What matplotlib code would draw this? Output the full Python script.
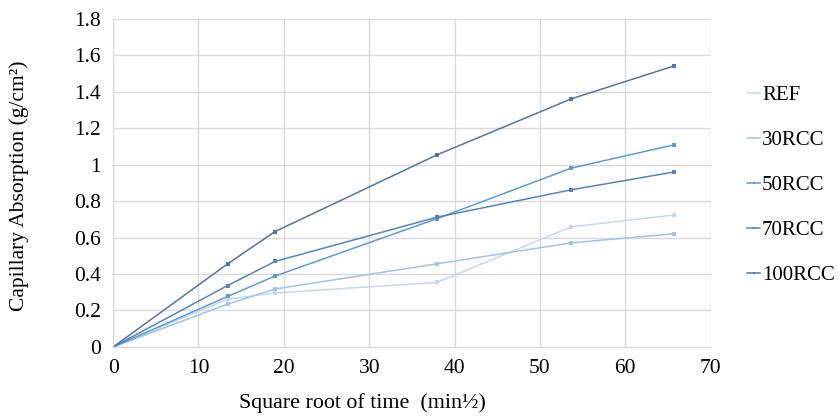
import matplotlib
matplotlib.use("Agg")
import matplotlib.pyplot as plt

plt.rcParams['font.family'] = ['Liberation Serif', 'DejaVu Serif']

time_sqrt = [0, 13.42, 18.97, 37.95, 53.67, 65.73]
series_names = ["REF", "30RCC", "50RCC", "70RCC", "100RCC"]
ref = [0, 0.262, 0.296, 0.354, 0.659, 0.724]
rcc30 = [0, 0.235, 0.318, 0.456, 0.571, 0.621]
rcc50 = [0, 0.277, 0.389, 0.704, 0.981, 1.109]
rcc70 = [0, 0.337, 0.469, 0.712, 0.862, 0.960]
rcc100 = [0, 0.456, 0.633, 1.054, 1.361, 1.542]
colors = ["#c3d8ef", "#9dc3e6", "#5b9bd5", "#5384c0", "#4f76a6"]

x_ticks = [0, 10, 20, 30, 40, 50, 60, 70]
y_ticks = [0, 0.2, 0.4, 0.6, 0.8, 1.0, 1.2, 1.4, 1.6, 1.8]
y_tick_labels = ["0", "0.2", "0.4", "0.6", "0.8", "1", "1.2", "1.4", "1.6", "1.8"]

fig = plt.figure(figsize=(8.38, 4.19), dpi=100)
ax = fig.add_axes([0.135, 0.172, 0.713, 0.783])

handles = []
for name, vals, c in zip(series_names, [ref, rcc30, rcc50, rcc70, rcc100], colors):
    h, = ax.plot(time_sqrt, vals, color=c, lw=1.1, marker='s', ms=2.5,
                 markeredgewidth=0, label=name)
    handles.append(h)

ax.set_xlim(0, 70)
ax.set_ylim(0, 1.8)
ax.set_xticks(x_ticks)
ax.set_yticks(y_ticks)
ax.set_yticklabels(y_tick_labels)
ax.grid(True, color="#d9d9d9", lw=1.0)
ax.set_axisbelow(True)
for s in ["top", "right"]:
    ax.spines[s].set_visible(False)
ax.spines["left"].set_color("#d9d9d9")
ax.spines["bottom"].set_color("#d9d9d9")
ax.tick_params(length=0, labelsize=15.5, pad=9)

ax.set_xlabel("Square root of time  (min½)", fontsize=15.8)
ax.xaxis.set_label_coords(0.418, -0.14)
ax.set_ylabel("Capillary Absorption (g/cm²)", fontsize=15.5)
ax.yaxis.set_label_coords(-0.14, 0.49)

fig.legend(handles=handles, loc="upper left", bbox_to_anchor=(0.892, 0.795),
           frameon=False, fontsize=15, handlelength=0.6, handletextpad=0.1,
           labelspacing=1.22, markerscale=0.8, borderpad=0, borderaxespad=0)

fig.savefig("out.png", dpi=100)
